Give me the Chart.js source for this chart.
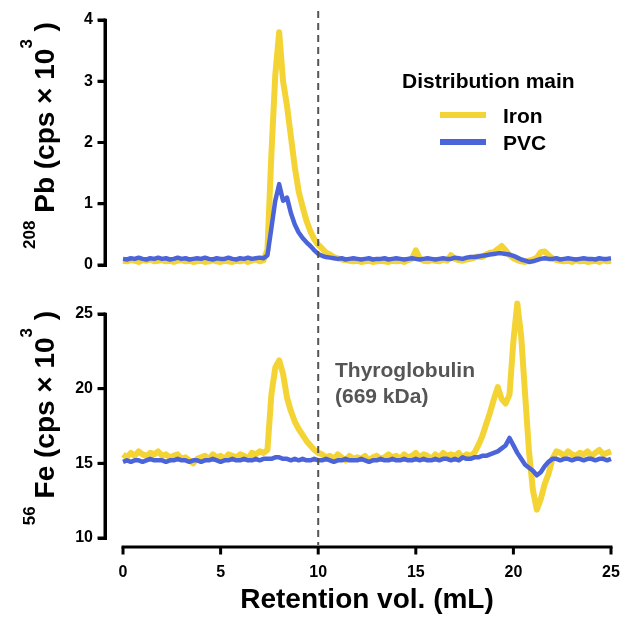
<!DOCTYPE html>
<html>
<head>
<meta charset="utf-8">
<script src="https://cdn.jsdelivr.net/npm/chart.js@4"></script>
<style>
    html, body { margin: 0; padding: 0; background: #ffffff; }
    #wrap { position: relative; width: 621px; height: 617px; }
    #pbChart { position: absolute; left: 0; top: 0; }
    #feChart { position: absolute; left: 0; top: 290px; }
</style>
</head>
<body>
<div id="wrap">
    <canvas id="pbChart" width="621" height="290"></canvas>
    <canvas id="feChart" width="621" height="327"></canvas>
</div>
<script>
// retention volume grid (mL), one reading every 0.2 mL from 0 to 25
const volumeStep = 0.2;
const volumeCount = 126;

const seriesNames = ["Iron", "PVC"];
const legendTitle = "Distribution main";
const xTitle = "Retention vol. (mL)";

// 208Pb (cps x 10^3)
const pbIron = [
    0.07, 0.06, 0.08, 0.07, 0.05, 0.08, 0.07, 0.09, 0.06, 0.07,
    0.08, 0.06, 0.07, 0.05, 0.07, 0.08, 0.06, 0.07, 0.05, 0.06,
    0.07, 0.05, 0.06, 0.08, 0.06, 0.05, 0.07, 0.06, 0.05, 0.07,
    0.06, 0.08, 0.05, 0.07, 0.09, 0.06, 0.08, 0.25, 1.8, 3.1,
    3.8, 3.0, 2.6, 2.1, 1.6, 1.2, 0.95, 0.72, 0.55, 0.42,
    0.33, 0.27, 0.2, 0.17, 0.13, 0.11, 0.09, 0.08, 0.07, 0.06,
    0.07, 0.05, 0.06, 0.07, 0.05, 0.06, 0.07, 0.06, 0.05, 0.07,
    0.06, 0.07, 0.05, 0.08, 0.1, 0.24, 0.11, 0.07, 0.06, 0.08,
    0.07, 0.06, 0.09, 0.07, 0.16, 0.1, 0.08, 0.07, 0.09, 0.1,
    0.12, 0.14, 0.13, 0.17, 0.2, 0.21, 0.26, 0.31, 0.24, 0.16,
    0.11, 0.08, 0.06, 0.05, 0.07, 0.09, 0.12, 0.21, 0.22, 0.16,
    0.11, 0.08, 0.07, 0.06, 0.07, 0.05, 0.08, 0.06, 0.07, 0.05,
    0.06, 0.07, 0.05, 0.08, 0.06, 0.07
];
const pbPvc = [
    0.1, 0.09, 0.11, 0.1, 0.12, 0.1, 0.09, 0.11, 0.1, 0.12,
    0.1, 0.11, 0.09, 0.1, 0.12, 0.1, 0.11, 0.09, 0.1, 0.11,
    0.1, 0.12, 0.1, 0.09, 0.11, 0.1, 0.1, 0.12, 0.1, 0.09,
    0.11, 0.1, 0.12, 0.1, 0.11, 0.12, 0.11, 0.16, 0.6, 1.05,
    1.32, 1.05, 1.1, 0.85, 0.66, 0.53, 0.44, 0.37, 0.31, 0.24,
    0.18, 0.15, 0.13, 0.12, 0.11, 0.1, 0.11, 0.09, 0.1, 0.11,
    0.1, 0.09, 0.1, 0.11, 0.09, 0.1, 0.1, 0.11, 0.09, 0.1,
    0.11, 0.1, 0.09, 0.1, 0.11, 0.1, 0.09, 0.1, 0.11, 0.1,
    0.09, 0.1, 0.11, 0.1, 0.1, 0.12, 0.11, 0.1, 0.12, 0.13,
    0.13, 0.14, 0.15, 0.16, 0.17, 0.18, 0.19, 0.19, 0.18, 0.17,
    0.15, 0.12, 0.09, 0.07, 0.05, 0.06, 0.08, 0.1, 0.11, 0.1,
    0.1, 0.11, 0.09, 0.1, 0.11, 0.1, 0.09, 0.1, 0.11, 0.1,
    0.1, 0.09, 0.11, 0.1, 0.1, 0.11
];

// 56Fe (cps x 10^3)
const feIron = [
    15.6, 15.4, 15.7, 15.5, 15.8, 15.6, 15.5, 15.7, 15.6, 15.8,
    15.5, 15.6, 15.4, 15.5, 15.6, 15.3, 15.4, 15.2, 15.0, 15.3,
    15.4, 15.5, 15.3, 15.6, 15.4, 15.5, 15.3, 15.6, 15.5, 15.4,
    15.6, 15.5, 15.3, 15.7, 15.6, 15.8, 15.7, 15.9, 19.6, 21.4,
    21.9, 21.0, 19.4, 18.5, 17.8, 17.3, 16.9, 16.5, 16.2, 15.9,
    15.7, 15.6, 15.4, 15.5, 15.3, 15.6, 15.4, 15.2, 15.5, 15.3,
    15.4, 15.3, 15.5, 15.2, 15.4, 15.5, 15.3, 15.4, 15.6, 15.4,
    15.5, 15.3, 15.6, 15.4, 15.5, 15.7, 15.4, 15.6, 15.5, 15.3,
    15.6, 15.4, 15.7, 15.5, 15.6, 15.5, 15.7, 15.4, 15.6, 15.5,
    15.7, 16.2, 16.8, 17.6, 18.4, 19.3, 20.1, 19.3, 19.0, 19.6,
    23.2, 25.7, 23.5, 19.6, 15.8, 13.2, 11.9, 12.6, 13.6, 14.3,
    15.3, 15.8, 15.7, 15.5, 15.8, 15.6, 15.5, 15.7, 15.6, 15.8,
    15.5, 15.7, 15.9, 15.6, 15.7, 15.8
];
const fePvc = [
    15.1, 15.2, 15.1, 15.2, 15.2, 15.1, 15.2, 15.3, 15.2, 15.2,
    15.2, 15.1, 15.2, 15.2, 15.3, 15.2, 15.2, 15.1, 15.2, 15.2,
    15.1, 15.2, 15.2, 15.3, 15.2, 15.1, 15.2, 15.2, 15.3, 15.2,
    15.2, 15.3, 15.2, 15.2, 15.3, 15.2, 15.3, 15.3, 15.3, 15.4,
    15.4, 15.3, 15.3, 15.2, 15.3, 15.2, 15.3, 15.2, 15.2, 15.3,
    15.2, 15.2, 15.3, 15.2, 15.1, 15.2, 15.2, 15.3, 15.2, 15.2,
    15.2, 15.3, 15.2, 15.1, 15.2, 15.2, 15.3, 15.2, 15.2, 15.3,
    15.2, 15.2, 15.3, 15.2, 15.2, 15.3, 15.2, 15.3, 15.2, 15.2,
    15.3, 15.2, 15.3, 15.3, 15.2, 15.3, 15.2, 15.4, 15.3, 15.3,
    15.4, 15.4, 15.5, 15.5, 15.6, 15.7, 15.8, 16.0, 16.2, 16.7,
    16.2, 15.7, 15.3, 14.9, 14.7, 14.5, 14.2, 14.4, 14.8, 15.1,
    15.3, 15.3, 15.2, 15.3, 15.3, 15.2, 15.3, 15.3, 15.2, 15.3,
    15.3, 15.2, 15.3, 15.3, 15.2, 15.3
];

const xTicks = [0, 5, 10, 15, 20, 25];
const markerVolume = 10;
const markerLabel = ["Thyroglobulin", "(669 kDa)"];

const volume = [];
for (let i = 0; i < volumeCount; i++) {
    volume.push(Math.round(i * volumeStep * 10) / 10);
}

const IRON = "#F4D435";
const PVC = "#4B64DA";
const FONT = "'Liberation Sans', Arial, sans-serif";
// the y axis sits a little left of 0 mL, as in the original figure
const X_START = -0.923;

function points(values) {
    return values.map(function (v, i) {
        return { x: volume[i], y: v };
    });
}

function lineSet(label, values, color, width, order) {
    return {
        label: label,
        data: points(values),
        borderColor: color,
        backgroundColor: color,
        borderWidth: width,
        pointRadius: 0,
        tension: 0,
        borderJoinStyle: "round",
        order: order,
        clip: false,
    };
}

function noEdgePadding(scale) {
    scale.paddingTop = 0;
    scale.paddingBottom = 0;
    scale.paddingLeft = 0;
    scale.paddingRight = 0;
}

// axis lines, the dashed marker and the axis titles
const decor = {
    id: "decor",
    afterDraw: function (chart, args, opts) {
        const ctx = chart.ctx;
        const area = chart.chartArea;
        const xs = chart.scales.x;
        const ys = chart.scales.y;

        ctx.save();
        ctx.fillStyle = "#000000";
        // y axis line and tick marks
        ctx.fillRect(area.left - 1.5, area.top - 1.5, 3, area.bottom - area.top + 3);
        ys.ticks.forEach(function (t, i) {
            const py = ys.getPixelForTick(i);
            ctx.fillRect(area.left - 7.5, py - 1.5, 7.5, 3);
        });

        if (opts.xAxis) {
            const ay = area.bottom + 9;
            const x0 = xs.getPixelForValue(xTicks[0]);
            const x1 = xs.getPixelForValue(xTicks[xTicks.length - 1]);
            ctx.fillRect(x0 - 1.5, ay - 1.5, x1 - x0 + 3, 3);
            xTicks.forEach(function (t) {
                const px = xs.getPixelForValue(t);
                ctx.fillRect(px - 1.5, ay, 3, 7.5);
            });
            ctx.font = "bold 28px " + FONT;
            ctx.textAlign = "center";
            ctx.textBaseline = "alphabetic";
            ctx.fillText(xTitle, (x0 + x1) / 2, 318);
        }

        // dashed marker at 10 mL
        const mx = xs.getPixelForValue(markerVolume);
        ctx.strokeStyle = "#555555";
        ctx.lineWidth = 2;
        ctx.lineCap = "butt";
        ctx.setLineDash([7, 5]);
        ctx.beginPath();
        ctx.moveTo(mx, opts.dashTop);
        ctx.lineTo(mx, opts.dashBottom > 0 ? opts.dashBottom : area.bottom + 7);
        ctx.stroke();
        ctx.setLineDash([]);

        // rotated y title with superscripts
        ctx.fillStyle = "#000000";
        ctx.textBaseline = "alphabetic";
        ctx.textAlign = "left";
        const big = "bold 28px " + FONT;
        const small = "bold 17px " + FONT;
        const parts = [
            { t: opts.isotope, f: small, dy: -19 },
            { t: " " + opts.element + " (cps \u00d7 10", f: big, dy: 0 },
            { t: "3", f: small, dy: -22 },
            { t: " )", f: big, dy: 0 },
        ];
        let total = 0;
        parts.forEach(function (p) {
            ctx.font = p.f;
            p.w = ctx.measureText(p.t).width;
            total += p.w;
        });
        const cy = (area.top + area.bottom) / 2 - opts.titleShift;
        ctx.translate(54, cy);
        ctx.rotate(-Math.PI / 2);
        let pos = -total / 2;
        parts.forEach(function (p) {
            ctx.font = p.f;
            ctx.fillText(p.t, pos, p.dy);
            pos += p.w;
        });
        ctx.restore();
    },
};

const pbLegend = {
    id: "pbLegend",
    afterDraw: function (chart) {
        const ctx = chart.ctx;
        ctx.save();
        ctx.fillStyle = "#000";
        ctx.textBaseline = "alphabetic";
        ctx.font = "bold 21px " + FONT;
        ctx.fillText(legendTitle, 402, 88);
        chart.data.datasets.forEach(function (ds, i) {
            const y = 115 + i * 27;
            ctx.strokeStyle = ds.borderColor;
            ctx.lineWidth = 6;
            ctx.beginPath();
            ctx.moveTo(440, y);
            ctx.lineTo(486, y);
            ctx.stroke();
            ctx.fillText(ds.label, 503, y + 8);
        });
        ctx.restore();
    },
};

const feNote = {
    id: "feNote",
    afterDraw: function (chart) {
        const ctx = chart.ctx;
        ctx.save();
        ctx.fillStyle = "#555";
        ctx.font = "bold 21px " + FONT;
        ctx.textBaseline = "alphabetic";
        ctx.fillText(markerLabel[0], 335, 87);
        ctx.fillText(markerLabel[1], 335, 113);
        ctx.restore();
    },
};

function yScale(min, max, step) {
    return {
        type: "linear",
        min: min,
        max: max,
        border: { display: true, color: "#000", width: 3 },
        grid: {
            display: true,
            drawOnChartArea: false,
            drawTicks: true,
            tickLength: 7,
            tickColor: "#000",
            tickWidth: 3,
            color: "#000",
            lineWidth: 3,
        },
        ticks: {
            stepSize: step,
            padding: 5,
            color: "#000",
            font: { family: FONT, size: 16, weight: "bold" },
        },
        afterFit: function (scale) {
            scale.width = 105;
            noEdgePadding(scale);
        },
    };
}

new Chart(document.getElementById("pbChart"), {
    type: "line",
    data: {
        datasets: [
            lineSet(seriesNames[0], pbIron, IRON, 6, 2),
            lineSet(seriesNames[1], pbPvc, PVC, 4.5, 1),
        ],
    },
    options: {
        responsive: false,
        animation: false,
        layout: { padding: { top: 20, right: 10, bottom: 25, left: 0 } },
        plugins: {
            legend: { display: false },
            tooltip: { enabled: false },
            decor: {
                xAxis: false,
                dashTop: 11,
                dashBottom: 290,
                isotope: "208",
                element: "Pb",
                titleShift: 7,
            },
        },
        scales: {
            x: { type: "linear", min: X_START, max: 25, display: false },
            y: yScale(0, 4, 1),
        },
    },
    plugins: [decor, pbLegend],
});

new Chart(document.getElementById("feChart"), {
    type: "line",
    data: {
        datasets: [
            lineSet(seriesNames[0], feIron, IRON, 6, 2),
            lineSet(seriesNames[1], fePvc, PVC, 4.5, 1),
        ],
    },
    options: {
        responsive: false,
        animation: false,
        layout: { padding: { top: 24, right: 10, bottom: 0, left: 0 } },
        plugins: {
            legend: { display: false },
            tooltip: { enabled: false },
            decor: {
                xAxis: true,
                dashTop: 0,
                dashBottom: 0,
                isotope: "56",
                element: "Fe",
                titleShift: 8,
            },
        },
        scales: {
            x: {
                type: "linear",
                min: X_START,
                max: 25,
                border: { display: false },
                grid: { display: false, drawTicks: false },
                afterBuildTicks: function (scale) {
                    scale.ticks = xTicks.map(function (v) {
                        return { value: v };
                    });
                },
                ticks: {
                    padding: 25,
                    color: "#000",
                    font: { family: FONT, size: 16, weight: "bold" },
                },
                afterFit: function (scale) {
                    scale.height = 79;
                    noEdgePadding(scale);
                },
            },
            y: yScale(10, 25, 5),
        },
    },
    plugins: [decor, feNote],
});
</script>
</body>
</html>
